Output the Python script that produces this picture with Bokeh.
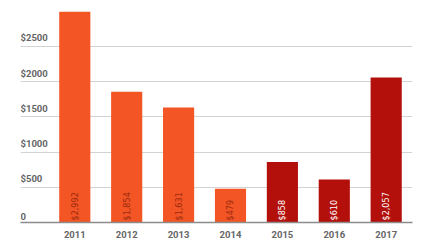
import math
from bokeh.plotting import figure
from bokeh.models import ColumnDataSource, Range1d, FixedTicker
from bokeh.core.properties import value
from bokeh.embed import file_html
from bokeh.resources import INLINE

years = [2011, 2012, 2013, 2014, 2015, 2016, 2017]
amounts = [2992, 1854, 1631, 479, 858, 610, 2057]
bar_labels = ["$2,992", "$1,854", "$1,631", "$479", "$858", "$610", "$2,057"]
y_ticks = [0, 500, 1000, 1500, 2000, 2500]
y_tick_labels = ["0", "$500", "$1000", "$1500", "$2000", "$2500"]
x_tick_labels = ["2011", "2012", "2013", "2014", "2015", "2016", "2017"]

ORANGE = "#F35524"
RED = "#B30F0B"
fills = [ORANGE if y <= 2014 else RED for y in years]
label_cols = ["#9A2A10" if y <= 2014 else "#FFFFFF" for y in years]

src = ColumnDataSource(dict(x=years, top=amounts, lab=bar_labels,
                            fill=fills, lc=label_cols))

p = figure(width=426, height=240, output_backend="svg", toolbar_location=None,
           x_range=Range1d(2009.954, 2017.507), y_range=Range1d(0, 3150),
           min_border_left=20, min_border_right=14, min_border_top=0,
           min_border_bottom=14, y_axis_location=None)
p.outline_line_color = None
p.background_fill_color = "white"
p.border_fill_color = "white"

p.vbar(x="x", top="top", width=0.6, bottom=0, fill_color="fill",
       line_color=None, source=src)

p.text(x="x", y=0, text="lab", angle=math.pi / 2, text_align="left",
       text_baseline="middle", y_offset=-2, text_color="lc",
       text_font=value("DejaVu Sans Condensed, Roboto, sans-serif"),
       text_font_size="9px", source=src)

ysrc = ColumnDataSource(dict(x=[2009.954] * len(y_ticks), y=y_ticks, t=y_tick_labels))
p.text(x="x", y="y", text="t", text_align="left", text_baseline="bottom",
       y_offset=-3, text_color="#666666", text_font=value("Roboto"),
       text_font_size="9.5px", text_font_style="bold", source=ysrc)

p.xgrid.visible = False
p.ygrid.ticker = FixedTicker(ticks=y_ticks[1:])
p.ygrid.grid_line_color = "#D3D3D3"
p.ygrid.grid_line_width = 1.2

ax = p.xaxis[0]
ax.ticker = FixedTicker(ticks=years)
ax.major_label_overrides = {y: s for y, s in zip(years, x_tick_labels)}
ax.major_tick_line_color = None
ax.minor_tick_line_color = None
ax.axis_line_color = "#8C8C8C"
ax.axis_line_width = 1.5
ax.major_label_standoff = 2
ax.major_label_text_font = "Roboto"
ax.major_label_text_font_size = "9.5px"
ax.major_label_text_font_style = "bold"
ax.major_label_text_color = "#666666"

open("out.html", "w").write(file_html(p, INLINE))
